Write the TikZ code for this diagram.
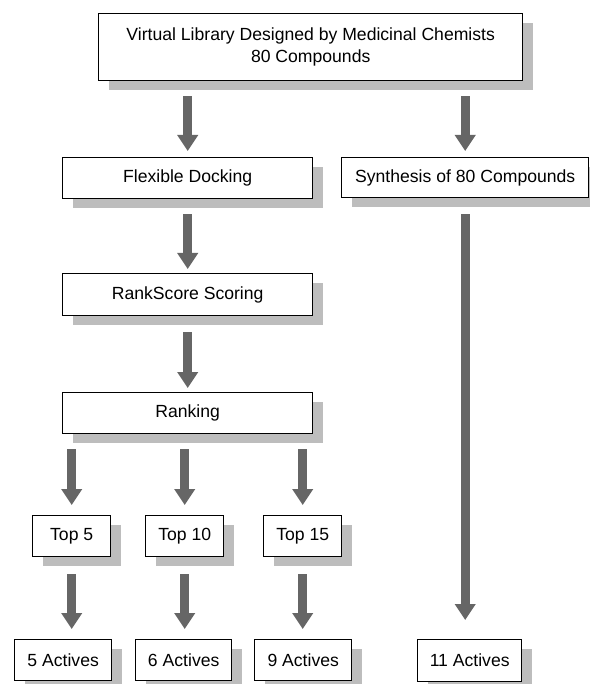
\documentclass[tikz,border=0pt]{standalone}
\usepackage{fontspec}
\setmainfont{Liberation Sans}
\usetikzlibrary{arrows.meta,shadows}
\definecolor{shadowgray}{HTML}{BDBDBD}
\definecolor{arrowgray}{HTML}{666666}
\begin{document}
\begin{tikzpicture}[x=1pt,y=-1pt,
  box/.style={draw=black,line width=1.4pt,fill=white,anchor=north west,inner sep=0pt,
    font=\fontsize{17.6}{22}\selectfont,align=center,
    drop shadow={shadow xshift=10pt,shadow yshift=-9pt,fill=shadowgray,opacity=1}},
  bigarrow/.style={draw=arrowgray,line width=9pt,-{Triangle[width=20pt,length=16pt]}}]
\useasboundingbox (0,0) rectangle (589,684);
\node[box,minimum width=424pt,minimum height=67pt] (top) at (98,13) {Virtual Library Designed by Medicinal Chemists\\80 Compounds};
\node[box,minimum width=250pt,minimum height=41pt] (fd) at (62,157) {Flexible Docking};
\node[box,minimum width=247pt,minimum height=40pt] (syn) at (341,157) {Synthesis of 80 Compounds};
\node[box,minimum width=250pt,minimum height=42pt] (rs) at (62,273) {RankScore Scoring};
\node[box,minimum width=250pt,minimum height=41pt] (rank) at (62,392) {Ranking};
\node[box,minimum width=78pt,minimum height=41pt] (t5) at (32,515) {Top 5};
\node[box,minimum width=78pt,minimum height=41pt] (t10) at (145,515) {Top 10};
\node[box,minimum width=78pt,minimum height=41pt] (t15) at (263,515) {Top 15};
\node[box,minimum width=97pt,minimum height=41pt] (a5) at (14,639) {5 Actives};
\node[box,minimum width=96pt,minimum height=41pt] (a6) at (135,639) {6 Actives};
\node[box,minimum width=97pt,minimum height=41pt] (a9) at (254,639) {9 Actives};
\node[box,minimum width=104pt,minimum height=42pt] (a11) at (417,639) {11 Actives};
\draw[bigarrow,shorten <=15pt,shorten >=6pt] (fd.north |- top.south) -- (fd.north);
\draw[bigarrow,shorten <=15pt,shorten >=6pt] (syn.north |- top.south) -- (syn.north);
\draw[bigarrow,shorten <=15pt,shorten >=4pt] (fd.south) -- (rs.north);
\draw[bigarrow,shorten <=16pt,shorten >=4pt] (rs.south) -- (rank.north);
\foreach \t in {t5,t10,t15}{
  \draw[bigarrow,shorten <=15pt,shorten >=10pt] (\t.north |- rank.south) -- (\t.north);
}
\draw[bigarrow,shorten <=17pt,shorten >=10pt] (t5.south) -- (t5.south |- a5.north);
\draw[bigarrow,shorten <=17pt,shorten >=10pt] (t10.south) -- (t10.south |- a6.north);
\draw[bigarrow,shorten <=17pt,shorten >=10pt] (t15.south) -- (t15.south |- a9.north);
\draw[bigarrow,shorten <=16pt,shorten >=19pt] (syn.south) -- (syn.south |- a11.north);
\end{tikzpicture}
\end{document}
